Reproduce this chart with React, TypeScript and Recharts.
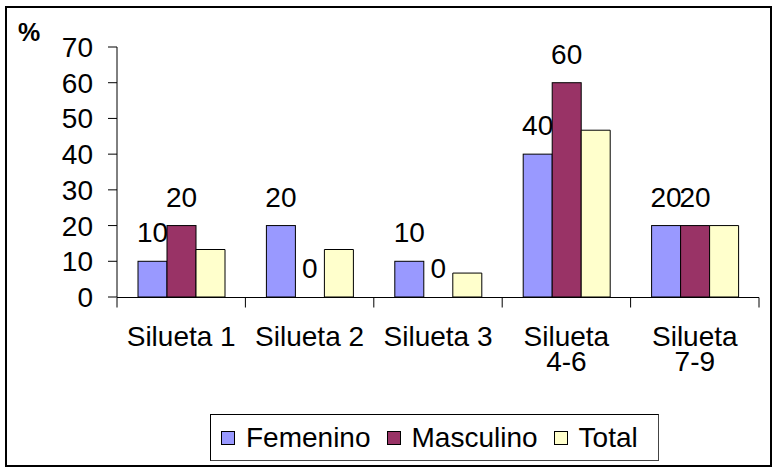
import React from "react";
import { BarChart, Bar, XAxis, YAxis, Legend } from "recharts";

const categories = ["Silueta 1", "Silueta 2", "Silueta 3", "Silueta\n4-6", "Silueta\n7-9"];
const femenino = [10, 20, 10, 40, 20];
const masculino = [20, 0, 0, 60, 20];
const total = [13.3, 13.3, 6.7, 46.7, 20];
const yTicks = [0, 10, 20, 30, 40, 50, 60, 70];
// category boundaries, in category-index units
const bandEdges = [-0.5, 0.5, 1.5, 2.5, 3.5, 4.5];

const data = categories.map((name, i) => ({
  name,
  Femenino: femenino[i],
  Masculino: masculino[i],
  Total: total[i],
}));

const FONT = "'Liberation Sans', Arial, sans-serif";
const FS = 28;
const W = 774;
const H = 469;
const MARGIN = { top: 47, right: 15, left: 57, bottom: 102 };
const Y_WIDTH = 60;
const HALF_BAND = (W - MARGIN.left - MARGIN.right - Y_WIDTH) / categories.length / 2;

function CategoryTick(props: any) {
  const x = Number(props.x);
  const y = Number(props.y);
  const lines = String(props.payload.value).split("\n");
  return (
    <text x={x} y={y} textAnchor="middle" fill="#000" fontSize={FS} fontFamily={FONT}>
      {lines.map((l, i) => (
        <tspan key={i} x={x} dy={i === 0 ? 49 : 25}>
          {l}
        </tspan>
      ))}
    </text>
  );
}

// bar with its value written above it (also for zero-height bars)
const labeledBar = (key: string) => (props: any) => {
  const { x, y, width, height, fill, payload } = props;
  return (
    <g>
      {height > 0 && <rect x={x} y={y} width={width} height={height} fill={fill} stroke="#000" strokeWidth={1} />}
      <text x={x + width / 2} y={y - 19} textAnchor="middle" fill="#000" fontSize={FS} fontFamily={FONT}>
        {String(payload[key])}
      </text>
    </g>
  );
};

function LegendBox({ payload }: any) {
  return (
    <div
      style={{
        boxSizing: "border-box",
        width: "100%",
        height: "100%",
        border: "1px solid #000",
        borderRightColor: "#444",
        borderBottomColor: "#444",
        display: "flex",
        alignItems: "center",
        paddingLeft: 10,
        fontFamily: FONT,
        fontSize: FS,
        lineHeight: 1,
        color: "#000",
        background: "#fff",
      }}
    >
      {(payload || []).map((p: any) => (
        <span key={p.value} style={{ display: "flex", alignItems: "center", marginRight: 16 }}>
          <span
            style={{
              display: "inline-block",
              boxSizing: "border-box",
              width: 14,
              height: 14,
              background: p.color,
              border: "1px solid #000",
              marginRight: 11,
            }}
          />
          {p.value}
        </span>
      ))}
    </div>
  );
}

export default function App() {
  return (
    <div style={{ position: "absolute", left: 0, top: 0, width: W, height: H, background: "#fff" }}>
      <svg width={W} height={H} style={{ position: "absolute", left: 0, top: 0 }}>
        <rect x={6} y={7} width={765} height={459} fill="#fff" stroke="#000" strokeWidth={2} />
        <text x={18} y={41} fill="#000" fontSize={25} fontWeight="bold" fontFamily={FONT}>
          %
        </text>
      </svg>
      <BarChart
        width={W}
        height={H}
        data={data}
        margin={MARGIN}
        barGap={0}
        barSize={29}
        style={{ position: "absolute", left: 0, top: 0, fontFamily: FONT }}
      >
        {/* numeric axis only for the tick marks on category edges */}
        <XAxis
          xAxisId="edges"
          type="number"
          domain={[0, 4]}
          padding={{ left: HALF_BAND, right: HALF_BAND }}
          ticks={bandEdges}
          interval={0}
          allowDataOverflow
          height={69.5}
          tickSize={10}
          tickFormatter={() => ""}
          axisLine={{ stroke: "#000" }}
          tickLine={{ stroke: "#000" }}
        />
        <XAxis
          dataKey="name"
          height={0.5}
          interval={0}
          axisLine={false}
          tickLine={false}
          tickSize={0}
          tickMargin={0}
          tick={(p: any) => <CategoryTick {...p} />}
        />
        <YAxis
          width={Y_WIDTH}
          domain={[0, 70]}
          ticks={yTicks}
          interval={0}
          tickSize={9}
          tickMargin={15}
          axisLine={{ stroke: "#000" }}
          tickLine={{ stroke: "#000" }}
          tick={{ fill: "#000", fontSize: FS, fontFamily: FONT }}
        />
        <Legend
          layout="vertical"
          align="center"
          verticalAlign="middle"
          wrapperStyle={{ left: 210, top: 414, width: 449, height: 47 }}
          content={<LegendBox />}
        />
        <Bar dataKey="Femenino" fill="#9999FF" stroke="#000" isAnimationActive={false} shape={labeledBar("Femenino")} />
        <Bar dataKey="Masculino" fill="#993366" stroke="#000" isAnimationActive={false} shape={labeledBar("Masculino")} />
        <Bar dataKey="Total" fill="#FFFFCC" stroke="#000" strokeWidth={1} isAnimationActive={false} />
      </BarChart>
    </div>
  );
}
